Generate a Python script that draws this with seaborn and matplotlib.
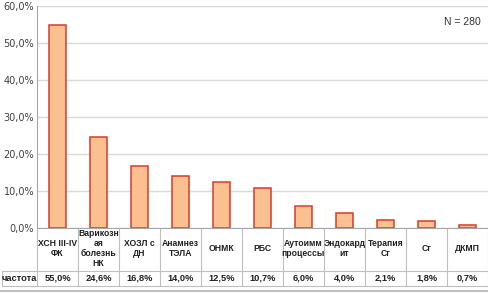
import matplotlib
matplotlib.use("Agg")
import matplotlib.pyplot as plt
import matplotlib.transforms as mtransforms
import seaborn as sns
import pandas as pd

categories = ["ХСН III-IV\nФК", "Варикозн\nая\nболезнь\nНК", "ХОЗЛ с\nДН", "Анамнез\nТЭЛА",
              "ОНМК", "РБС", "Аутоимм\nпроцессы", "Эндокард\nит", "Терапия\nСг", "Сг", "ДКМП"]
values = [55.0, 24.6, 16.8, 14.0, 12.5, 10.7, 6.0, 4.0, 2.1, 1.8, 0.7]
yticks = [0, 10, 20, 30, 40, 50, 60]
row_label = "частота"
note = "N = 280"

df = pd.DataFrame({"cat": [str(i) for i in range(len(values))], "val": values})

sns.set_style("white")
plt.rcParams['font.family'] = ['DejaVu Sans']
narrow = ['Liberation Sans Narrow', 'Liberation Sans', 'DejaVu Sans']

fig = plt.figure(figsize=(4.89, 2.93), dpi=100)
ax = fig.add_axes([37/489, 65/293, 451/489, 222/293])

sns.barplot(data=df, x="cat", y="val", ax=ax, width=0.4,
            color="#FAC090", edgecolor="#D93B2B", linewidth=1.1, saturation=1)

ax.set_ylim(0, 60)
ax.set_xlim(-0.5, len(values) - 0.5)
ax.set_yticks(yticks)
ax.set_yticklabels([f"{v:.1f}%".replace(".", ",") for v in yticks], fontsize=7, color="#404040")
ax.set_xticks([])
ax.set_xlabel("")
ax.set_ylabel("")
ax.yaxis.grid(True, color="#D9D9D9", linewidth=1)
ax.set_axisbelow(True)
for s in ["top", "right"]:
    ax.spines[s].set_visible(False)
ax.spines["left"].set_color("#A6A6A6")
ax.spines["bottom"].set_color("#A6A6A6")
ax.tick_params(axis="y", length=0, pad=2)

ax.text(0.985, 0.93, note, transform=ax.transAxes, ha="right", va="center",
        fontsize=7.5, color="#303030", family=narrow)

trans = mtransforms.blended_transform_factory(ax.transData, ax.transAxes)
def fy(px):
    return (228 - px) / 222

line_kw = dict(color="#BFBFBF", linewidth=0.8, clip_on=False)
for i in range(len(values) + 1):
    x = i - 0.5
    ax.plot([x, x], [fy(228), fy(286)], transform=trans, **line_kw)
ax.plot([-0.5, len(values) - 0.5], [fy(271), fy(271)], transform=trans, **line_kw)
ax.plot([-0.5, len(values) - 0.5], [fy(286), fy(286)], transform=trans, **line_kw)
ftrans = fig.transFigure
x0 = 2 / 489
x1 = 37 / 489
for ypx in (271, 286):
    fig.add_artist(plt.Line2D([x0, x1], [(293 - ypx) / 293] * 2, transform=ftrans,
                              color="#BFBFBF", linewidth=0.8))
fig.add_artist(plt.Line2D([x0, x0], [(293 - 271) / 293, (293 - 286) / 293],
                          transform=ftrans, color="#BFBFBF", linewidth=0.8))
fig.add_artist(plt.Line2D([0, 1], [(293 - 291) / 293] * 2, transform=ftrans,
                          color="#BFBFBF", linewidth=1.5))

for i, (c, v) in enumerate(zip(categories, values)):
    ax.text(i, fy(248.5), c, transform=trans, ha="center", va="center",
            fontsize=6.2, fontweight="bold", color="#202020", linespacing=1.1, family=narrow)
    ax.text(i, fy(278.5), f"{v:.1f}%".replace(".", ","), transform=trans,
            ha="center", va="center", fontsize=6.7, fontweight="bold", color="#202020",
            family=narrow)

fig.text(19 / 489, (293 - 278.5) / 293, row_label, ha="center", va="center",
         fontsize=6.7, fontweight="bold", color="#202020", family=narrow)

fig.savefig("out.png", dpi=100)
